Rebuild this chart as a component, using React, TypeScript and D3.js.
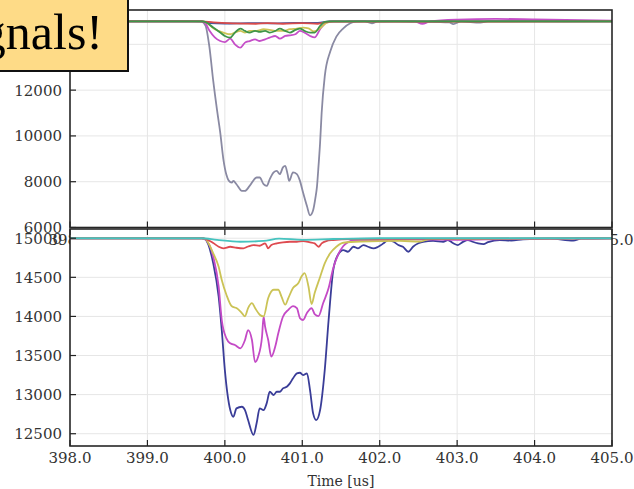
import React from 'react';
import * as d3 from 'd3';

type P = [number, number];

const xTicks = [398, 399, 400, 401, 402, 403, 404, 405];
const topYTicks = [6000, 8000, 10000, 12000, 14000];
const botYTicks = [12500, 13000, 13500, 14000, 14500, 15000];
const xLabel = 'Time [us]';
const calloutText = 'gnals!';

// ---- top panel series (time [us], value) ----
const topGray: P[] = [
  [398, 15000], [399.6, 15000], [399.7, 14990], [399.75, 14820], [399.8, 13900], [399.85, 12400],
  [399.9, 11100], [399.94, 10150], [399.98, 9000], [400.02, 8300], [400.05, 8050], [400.09, 7965],
  [400.11, 8035], [400.15, 7890], [400.22, 7600], [400.26, 7600], [400.32, 7815], [400.41, 8185],
  [400.45, 8185], [400.5, 7890], [400.54, 7815], [400.58, 8110], [400.63, 8405], [400.67, 8475],
  [400.71, 8330], [400.75, 8625], [400.78, 8695], [400.81, 8330], [400.83, 8035], [400.88, 8405],
  [400.93, 8330], [400.97, 8035], [401.01, 7525], [401.06, 6935], [401.1, 6530], [401.14, 6750],
  [401.17, 7300], [401.19, 7800], [401.21, 8700], [401.23, 9700], [401.25, 11000], [401.29, 12600],
  [401.36, 13680], [401.44, 14340], [401.53, 14700], [401.62, 14920], [401.7, 15000], [401.8, 15010],
  [401.9, 14920], [401.97, 15000], [402.2, 15010], [402.5, 14990], [402.9, 14960], [402.95, 14880],
  [403.05, 15000], [403.3, 14950], [403.4, 15010], [404, 15010], [405, 15000],
];
const topMagenta: P[] = [
  [398, 15000], [399.68, 15000], [399.74, 14950], [399.8, 14600], [399.87, 14300], [399.94, 14145],
  [400.0, 14100], [400.07, 14250], [400.13, 14000], [400.2, 13855], [400.26, 14075], [400.32, 14145],
  [400.39, 14220], [400.45, 14145], [400.52, 14220], [400.58, 14295], [400.65, 14365], [400.71, 14250],
  [400.78, 14365], [400.84, 14395], [400.91, 14440], [400.97, 14585], [401.03, 14510], [401.1, 14365],
  [401.16, 14300], [401.23, 14660], [401.31, 14950], [401.4, 15000], [402.45, 15000], [402.55, 14900],
  [402.65, 15000], [403.0, 15080], [403.5, 15110], [404.0, 15090], [405, 15040],
];
const topYellow: P[] = [
  [398, 15000], [399.7, 15000], [399.74, 14980], [399.87, 14660], [399.98, 14514], [400.07, 14440],
  [400.13, 14514], [400.2, 14585], [400.26, 14514], [400.32, 14585], [400.41, 14585], [400.5, 14660],
  [400.58, 14630], [400.67, 14585], [400.75, 14585], [400.84, 14660], [400.93, 14690], [401.01, 14733],
  [401.08, 14700], [401.15, 14560], [401.23, 14700], [401.31, 14930], [401.4, 15000], [405, 15000],
];
const topGreen: P[] = [
  [398, 15000], [399.72, 15000], [399.85, 14733], [399.94, 14514], [400.0, 14365], [400.07, 14294],
  [400.13, 14514], [400.2, 14690], [400.26, 14585], [400.32, 14514], [400.39, 14585], [400.45, 14541],
  [400.52, 14585], [400.58, 14514], [400.65, 14585], [400.71, 14690], [400.78, 14585], [400.84, 14514],
  [400.91, 14630], [400.97, 14690], [401.03, 14585], [401.1, 14514], [401.16, 14514], [401.23, 14805],
  [401.29, 14980], [401.35, 15000], [405, 15000],
];
const topBlue: P[] = [
  [398, 15000], [399.7, 15000], [399.8, 14930], [400.0, 14910], [400.3, 14930], [400.6, 14920],
  [400.9, 14935], [401.2, 14940], [401.35, 15000], [405, 15000],
];
const topRed: P[] = [
  [398, 15000], [399.7, 15000], [399.85, 14960], [400.1, 14920], [400.4, 14900], [400.55, 14930],
  [400.75, 14900], [401.0, 14930], [401.2, 14900], [401.35, 14990], [405, 15000],
];

// ---- bottom panel series ----
const botNavy: P[] = [
  [398, 15000], [399.7, 15000], [399.74, 14990], [399.85, 14679], [399.92, 14252], [399.96, 13826],
  [400.0, 13314], [400.07, 12803], [400.11, 12717], [400.15, 12824], [400.22, 12845], [400.26, 12803],
  [400.3, 12675], [400.37, 12484], [400.41, 12633], [400.45, 12824], [400.5, 12803], [400.54, 12888],
  [400.58, 13037], [400.63, 12995], [400.67, 13037], [400.71, 13037], [400.75, 13080], [400.8, 13101],
  [400.84, 13144], [400.88, 13208], [400.93, 13272], [400.97, 13280], [401.01, 13250], [401.06, 13272],
  [401.1, 13058], [401.14, 12760], [401.18, 12675], [401.23, 12803], [401.29, 13314], [401.34, 13954],
  [401.4, 14593], [401.46, 14785], [401.53, 14849], [401.59, 14827], [401.66, 14891], [401.72, 14870],
  [401.79, 14913], [401.85, 14891], [401.92, 14870], [401.98, 14891], [402.05, 14935], [402.11, 14977],
  [402.18, 14955], [402.24, 14913], [402.3, 14891], [402.37, 14827], [402.43, 14891], [402.5, 14935],
  [402.56, 14955], [402.69, 14965], [402.82, 14955], [402.88, 14977], [402.95, 14935], [403.01, 14913],
  [403.07, 14950], [403.14, 14977], [403.2, 14955], [403.27, 14935], [403.34, 14925], [403.4, 14950],
  [403.55, 14977], [403.7, 14970], [403.85, 14985], [404.2, 14995], [404.5, 14970], [404.6, 14995],
  [405, 15000],
];
const botMagenta: P[] = [
  [398, 15000], [399.7, 15000], [399.74, 14990], [399.85, 14763], [399.92, 14380], [399.96, 13954],
  [400.02, 13720], [400.07, 13656], [400.13, 13634], [400.2, 13592], [400.26, 13698], [400.3, 13826],
  [400.35, 13698], [400.39, 13417], [400.43, 13485], [400.48, 13740], [400.5, 13996], [400.52, 13868],
  [400.56, 13698], [400.6, 13485], [400.65, 13612], [400.69, 13784], [400.75, 13996], [400.82, 14085],
  [400.88, 14133], [400.93, 14107], [400.97, 13979], [401.01, 13954], [401.06, 14043], [401.12, 14107],
  [401.16, 14030], [401.21, 14005], [401.27, 14171], [401.34, 14363], [401.4, 14619], [401.46, 14785],
  [401.53, 14900], [401.59, 14950], [401.68, 14977], [402.0, 14975], [402.4, 14985], [403.0, 14980],
  [403.6, 14990], [405, 15000],
];
const botYellow: P[] = [
  [398, 15000], [399.7, 15000], [399.74, 14995], [399.85, 14807], [399.92, 14635], [399.96, 14465],
  [400.02, 14277], [400.09, 14129], [400.15, 14107], [400.22, 14043], [400.26, 14001], [400.3, 14107],
  [400.35, 14171], [400.39, 14107], [400.45, 14022], [400.5, 14000], [400.56, 14235], [400.63, 14341],
  [400.69, 14341], [400.73, 14257], [400.78, 14150], [400.82, 14235], [400.88, 14363], [400.95, 14427],
  [400.99, 14510], [401.03, 14555], [401.08, 14382], [401.12, 14158], [401.16, 14299], [401.23, 14504],
  [401.29, 14679], [401.36, 14807], [401.44, 14891], [401.53, 14942], [401.75, 14958], [402.26, 14965],
  [402.52, 14958], [402.65, 14990], [405, 15000],
];
const botRed: P[] = [
  [398, 15000], [399.7, 15000], [399.74, 14995], [399.85, 14939], [399.92, 14891], [399.98, 14871],
  [400.07, 14891], [400.15, 14878], [400.24, 14871], [400.3, 14894], [400.37, 14913], [400.45, 14904],
  [400.52, 14935], [400.56, 14871], [400.6, 14913], [400.67, 14935], [400.75, 14948], [400.84, 14955],
  [400.93, 14955], [401.01, 14964], [401.1, 14948], [401.16, 14935], [401.21, 14891], [401.25, 14935],
  [401.31, 14964], [401.4, 14977], [401.62, 14990], [405, 15000],
];
const botCyan: P[] = [
  [398, 15000], [399.7, 15000], [399.9, 14978], [400.2, 14955], [400.5, 14965], [400.7, 14995],
  [401.0, 14980], [401.4, 14990], [402.0, 15000], [405, 15000],
];

export default function App() {
  const W = 634;
  const H = 489;
  const L = 70;
  const R = 612;
  const topT = 10;
  const topB = 227.5;
  const botT = 229;
  const botB = 446;

  const x = d3.scaleLinear().domain([398, 405]).range([L, R]);
  const yTop = d3.scaleLinear().domain([6000, 15500]).range([topB, topT]);
  const yBot = d3.scaleLinear().domain([12343, 15118]).range([botB, botT]);

  const mk = (y: d3.ScaleLinear<number, number>) =>
    d3.line<P>().x((d) => x(d[0])).y((d) => y(d[1])).curve(d3.curveMonotoneX);
  const lTop = mk(yTop);
  const lBot = mk(yBot);

  const topSeries: { d: P[]; c: string }[] = [
    { d: topGray, c: '#8a8aa3' },
    { d: topMagenta, c: '#c54fc8' },
    { d: topYellow, c: '#cdc556' },
    { d: topBlue, c: '#3b58a6' },
    { d: topRed, c: '#d94a4a' },
    { d: topGreen, c: '#3f9548' },
  ];
  const botSeries: { d: P[]; c: string }[] = [
    { d: botNavy, c: '#3a3d98' },
    { d: botMagenta, c: '#c44ac6' },
    { d: botYellow, c: '#cbc356' },
    { d: botRed, c: '#de4a50' },
    { d: botCyan, c: '#46c3bf' },
  ];

  const font = "'DejaVu Serif', serif";
  const tickCol = '#333';

  return (
    <svg width={W} height={H} style={{ position: 'absolute', left: 0, top: 0, background: '#fff' }}>
      <defs>
        <clipPath id="clipTop">
          <rect x={L} y={topT} width={R - L} height={topB - topT} />
        </clipPath>
        <clipPath id="clipBot">
          <rect x={L} y={botT} width={R - L} height={botB - botT} />
        </clipPath>
      </defs>
      <rect x={0} y={0} width={W} height={H} fill="#fff" />

      {/* TOP PANEL */}
      <g>
        {xTicks.slice(1, -1).map((t) => (
          <line key={'gxt' + t} x1={x(t)} x2={x(t)} y1={topT} y2={topB} stroke="#e6e6e6" strokeWidth={1} />
        ))}
        {topYTicks.map((v) => (
          <line key={'gyt' + v} x1={L} x2={R} y1={yTop(v)} y2={yTop(v)} stroke="#e6e6e6" strokeWidth={1} />
        ))}
        <g clipPath="url(#clipTop)">
          {topSeries.map((s, i) => (
            <path key={i} d={lTop(s.d) || ''} fill="none" stroke={s.c} strokeWidth={1.8} />
          ))}
        </g>
        {xTicks.map((t) => (
          <line key={'txt' + t} x1={x(t)} x2={x(t)} y1={topB} y2={topB - 6} stroke="#222" strokeWidth={1.2} />
        ))}
        {topYTicks.map((v) => (
          <line key={'tyt' + v} x1={L} x2={L + 6} y1={yTop(v)} y2={yTop(v)} stroke="#222" strokeWidth={1.2} />
        ))}
        <rect x={L} y={topT} width={R - L} height={topB - topT} fill="none" stroke="#262626" strokeWidth={1.6} />
        {topYTicks.map((v) => (
          <text key={'tyl' + v} x={62} y={yTop(v) + 5.5} textAnchor="end" fontFamily={font} fontSize={15} fill={tickCol}>
            {v}
          </text>
        ))}
        {xTicks.map((t) => (
          <text key={'txl' + t} x={x(t)} y={topB + 17} textAnchor="middle" fontFamily={font} fontSize={15} fill={tickCol}>
            {t.toFixed(1)}
          </text>
        ))}
      </g>

      {/* BOTTOM PANEL */}
      <g>
        <rect x={L} y={botT} width={R - L} height={botB - botT} fill="#fff" />
        {xTicks.slice(1, -1).map((t) => (
          <line key={'bgx' + t} x1={x(t)} x2={x(t)} y1={botT} y2={botB} stroke="#e6e6e6" strokeWidth={1} />
        ))}
        {botYTicks.map((v) => (
          <line key={'bgy' + v} x1={L} x2={R} y1={yBot(v)} y2={yBot(v)} stroke="#e6e6e6" strokeWidth={1} />
        ))}
        <g clipPath="url(#clipBot)">
          {botSeries.map((s, i) => (
            <path key={i} d={lBot(s.d) || ''} fill="none" stroke={s.c} strokeWidth={1.8} />
          ))}
        </g>
        {xTicks.map((t) => (
          <line key={'bxt' + t} x1={x(t)} x2={x(t)} y1={botB} y2={botB - 6} stroke="#222" strokeWidth={1.2} />
        ))}
        {xTicks.map((t) => (
          <line key={'bxt2' + t} x1={x(t)} x2={x(t)} y1={botT} y2={botT + 6} stroke="#222" strokeWidth={1.2} />
        ))}
        {botYTicks.map((v) => (
          <line key={'byt' + v} x1={L} x2={L + 6} y1={yBot(v)} y2={yBot(v)} stroke="#222" strokeWidth={1.2} />
        ))}
        <rect x={L} y={botT} width={R - L} height={botB - botT} fill="none" stroke="#262626" strokeWidth={1.6} />
        {botYTicks.map((v) => (
          <text key={'byl' + v} x={62} y={yBot(v) + 5.5} textAnchor="end" fontFamily={font} fontSize={15} fill={tickCol}>
            {v}
          </text>
        ))}
        {xTicks.map((t) => (
          <text key={'bxl' + t} x={x(t)} y={botB + 17} textAnchor="middle" fontFamily={font} fontSize={15} fill={tickCol}>
            {t.toFixed(1)}
          </text>
        ))}
        <text x={(L + R) / 2} y={486} textAnchor="middle" fontFamily={font} fontSize={14} fill={tickCol}>
          {xLabel}
        </text>
      </g>

      {/* callout box */}
      <g>
        <rect x={-3} y={-3} width={131} height={74} fill="#fedb87" stroke="#111" strokeWidth={2} />
        <text x={103} y={49} textAnchor="end" fontFamily="'Liberation Serif', serif" fontSize={50} fill="#000">
          {calloutText}
        </text>
      </g>
    </svg>
  );
}
